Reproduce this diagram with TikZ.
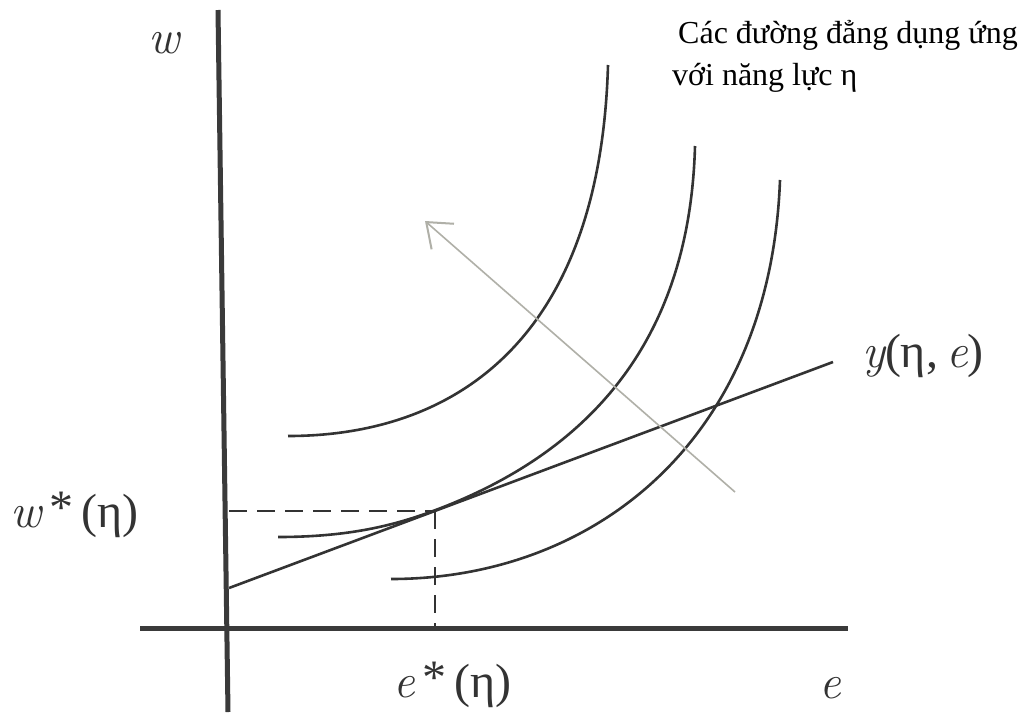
\documentclass[tikz,border=0pt]{standalone}
\usepackage{fontspec}
\setmainfont{Liberation Serif}
\newfontfamily\grk{Liberation Serif}
\newfontfamily\lmr{Latin Modern Roman}
\newcommand{\vi}[1]{{\lmr\itshape #1}}
\usetikzlibrary{arrows.meta}
\definecolor{ink}{HTML}{333333}
\definecolor{axisc}{HTML}{3A3A3A}
\definecolor{arrowc}{HTML}{B0B0A8}
\tikzset{
  axisline/.style={line width=5pt, draw=axisc},
  curveline/.style={line width=2.6pt, draw=ink},
  dashline/.style={line width=2pt, draw=ink, dash pattern=on 18pt off 10pt},
  grayarrow/.style={line width=1.6pt, draw=arrowc, -{Straight Barb[length=22pt,width=34pt,line width=2pt]}},
  mathlab/.style={inner sep=0pt, text=ink, font=\fontsize{48}{54}\selectfont},
  viet/.style={inner sep=0pt, text=black, font=\fontsize{32}{40}\selectfont}
}
\begin{document}
\begin{tikzpicture}[x=1pt,y=-1pt]
\useasboundingbox[fill=white] (0,0) rectangle (1028,716);
% axes
\coordinate (vtop) at (218,10);
\coordinate (vbot) at (228,712);
\coordinate (hleft) at (140,628);
\coordinate (hright) at (848,628);
\draw[axisline] (vtop) -- (vbot);
\draw[axisline] (hleft) -- (hright);
% output line y(eta,e)
\coordinate (yl) at (229,588);
\coordinate (yr) at (833,362);
\draw[curveline] (yl) -- (yr);
% tangent point and dashed guides
\coordinate (T) at (433,511);
\coordinate (Tw) at (229,511);
\coordinate (Te) at (435,626);
\coordinate (Tv) at (435,511);
\draw[dashline] (Tw) -- (T);
\draw[dashline] (Tv) -- (Te);
% indifference curves
\coordinate (c1s) at (288,436);
\coordinate (c1e) at (608,65);
\draw[curveline] (c1s) .. controls (450,436) and (600,345) .. (c1e);
\coordinate (c2s) at (278,537);
\coordinate (c2e) at (695,146);
\draw[curveline] (c2s) .. controls (350,537) and (395,525) .. (T)
  .. controls (600,449) and (690,330) .. (c2e);
\coordinate (c3s) at (391,579);
\coordinate (c3e) at (780,180);
\draw[curveline] (c3s) .. controls (590,579) and (770,445) .. (c3e);
% gray arrow
\coordinate (a1) at (735,492);
\coordinate (a2) at (425,221);
\draw[grayarrow] (a1) -- (a2);
% labels
\node[mathlab, anchor=base] (lw) at (164,53) {\vi{w}};
\node[mathlab, anchor=base west] (lws) at (10,527) {\vi{w}\,\raisebox{4pt}{*}\,(\grk η)};
\node[mathlab, anchor=base west] (les) at (393,697) {\vi{e}\,\raisebox{4pt}{*}\,(\grk η)};
\node[mathlab, anchor=base] (le) at (830,698) {\vi{e}};
\node[mathlab, anchor=base west] (ly) at (862,367) {\vi{y}(\grk η,\,\vi{e})};
\node[viet, anchor=base west] (txt1) at (678,43) {Các đường đẳng dụng ứng};
\node[viet, anchor=base west] (txt2) at (672,85) {với năng lực η};
\end{tikzpicture}
\end{document}
